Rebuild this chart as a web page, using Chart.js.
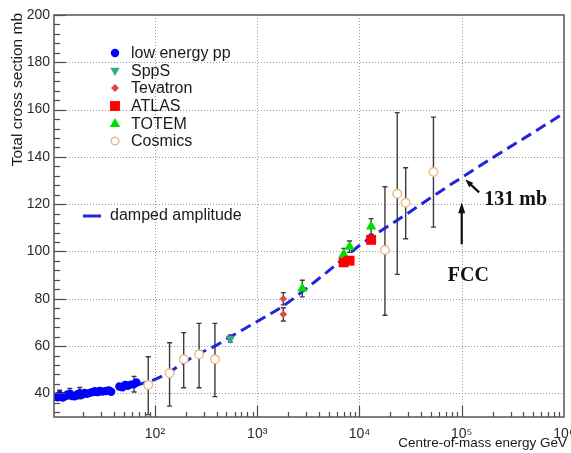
<!DOCTYPE html>
<html>
<head>
<meta charset="utf-8">
<script src="https://cdn.jsdelivr.net/npm/chart.js@4.4.1/dist/chart.umd.min.js"></script>
<style>
  html, body { margin: 0; padding: 0; background: #fff; }
  #wrap { width: 571px; height: 453px; }
</style>
</head>
<body>
<div id="wrap"><canvas id="xsec" width="571" height="453"></canvas></div>
<script>
// energies in GeV, cross sections in mb
const lowE     = [10.5, 11.2, 11.7, 12.5, 13.2, 13.8, 14.7, 15.5, 16.4, 17.3, 18.4, 19.4, 20.5, 21.7, 23.0, 24.3, 25.7, 27.4, 28.7, 30.6, 33.3, 35.5, 37.3, 44.9, 48.0, 51.3, 54.0, 58.2, 62.5, 65.9];
const lowSigma = [38.6, 38.3, 39.3, 38.2, 38.8, 39.4, 39.9, 38.9, 38.8, 39.5, 40.1, 39.4, 40.2, 39.8, 40.2, 40.5, 40.9, 40.5, 41.0, 40.8, 41.0, 41.2, 40.7, 42.9, 42.6, 43.6, 43.2, 43.7, 43.9, 44.6];
const lowErr   = [0.6, 0.6, 2.0, 0.6, 0.6, 0.6, 2.2, 0.6, 0.6, 0.6, 2.4, 0.6, 0.6, 0.6, 0.6, 0.6, 0.6, 0.6, 0.6, 0.6, 0.6, 0.6, 0.6, 0.6, 0.6, 0.6, 0.6, 0.6, 3.3, 0.6];

const sppsE = [546];
const sppsSigma = [63.2];
const sppsErr = [1.5];

const tevE = [1800, 1800];
const tevSigma = [80.0, 73.4];
const tevErr = [2.6, 2.8];

const atlasE = [7000, 8000, 13000];
const atlasSigma = [95.4, 96.1, 104.9];
const atlasErr = [1.3, 1.0, 1.1];

const totemE = [2760, 7000, 8000, 13000];
const totemSigma = [84.3, 98.8, 102.0, 110.6];
const totemErr = [3.5, 2.5, 2.4, 3.3];

const cosmicE  = [86, 139, 191, 270, 386, 17750, 23400, 28300, 52900];
const cosmicSigma = [43.5, 48.5, 54.4, 56.5, 54.4, 100.6, 124.4, 120.6, 133.6];
const cosmicLo = [31.0, 34.6, 42.4, 42.4, 38.6, 73.0, 90.3, 105.4, 110.3];
const cosmicHi = [55.5, 61.4, 65.7, 69.6, 69.6, 127.4, 158.7, 135.4, 156.8];

const fitE = [65, 100, 139, 191, 270, 386, 541, 1000, 1800, 2760, 4000, 7000, 10000, 13000, 20000, 30000, 50000, 100000, 200000, 500000, 1000000];
const fitSigma = [43.4, 45.9, 49.0, 53.0, 56.8, 60.0, 63.8, 70.4, 77.0, 83.0, 88.5, 97.0, 102.5, 106.0, 111.3, 116.3, 122.8, 131.3, 139.6, 150.3, 158.5];

const xTickValues = [100, 1000, 10000, 100000, 1000000];
const xTickLabels = ['10²', '10³', '10⁴', '10⁵', '10⁶'];
const yTickValues = [40, 60, 80, 100, 120, 140, 160, 180, 200];

const SANS = "'Liberation Sans', Arial, Helvetica, sans-serif";
const SERIF = "'Liberation Serif', 'Times New Roman', serif";

function pts(xs, ys) {
    return xs.map((x, i) => ({ x: x, y: ys[i] }));
}
function plus(ys, es) { return ys.map((y, i) => y + es[i]); }
function minus(ys, es) { return ys.map((y, i) => y - es[i]); }

const datasets = [
    {
        label: 'low energy pp', data: pts(lowE, lowSigma),
        pointStyle: 'circle', pointRadius: 4.2, borderWidth: 0,
        backgroundColor: '#0000ff', borderColor: '#0000ff',
        errLo: minus(lowSigma, lowErr), errHi: plus(lowSigma, lowErr)
    },
    {
        label: 'SppS', data: pts(sppsE, sppsSigma),
        pointStyle: 'triangle', rotation: 180, pointRadius: 5.5, borderWidth: 0,
        backgroundColor: '#3fa588', borderColor: '#3fa588',
        errLo: minus(sppsSigma, sppsErr), errHi: plus(sppsSigma, sppsErr)
    },
    {
        label: 'Tevatron', data: pts(tevE, tevSigma),
        pointStyle: 'rectRot', pointRadius: 3.8, borderWidth: 0,
        backgroundColor: '#e04848', borderColor: '#e04848',
        errLo: minus(tevSigma, tevErr), errHi: plus(tevSigma, tevErr)
    },
    {
        label: 'ATLAS', data: pts(atlasE, atlasSigma),
        pointStyle: 'rect', pointRadius: 7, borderWidth: 0,
        backgroundColor: '#ff0000', borderColor: '#ff0000',
        errLo: minus(atlasSigma, atlasErr), errHi: plus(atlasSigma, atlasErr)
    },
    {
        label: 'TOTEM', data: pts(totemE, totemSigma),
        pointStyle: 'triangle', pointRadius: 6, borderWidth: 0,
        backgroundColor: '#00dd00', borderColor: '#00dd00',
        errLo: minus(totemSigma, totemErr), errHi: plus(totemSigma, totemErr)
    },
    {
        label: 'Cosmics', data: pts(cosmicE, cosmicSigma),
        pointStyle: 'circle', pointRadius: 4.3, borderWidth: 1.4,
        backgroundColor: '#ffffff', borderColor: '#e9b986',
        errLo: cosmicLo, errHi: cosmicHi
    },
    {
        label: 'damped amplitude', type: 'line', data: pts(fitE, fitSigma),
        showLine: true, pointRadius: 0, borderWidth: 3,
        borderColor: '#2323dd', borderDash: [11, 6],
        cubicInterpolationMode: 'monotone', fill: false
    }
];

// ROOT-like frame: dotted grid underneath, inner ticks and box on top
const rootFrame = {
    id: 'rootFrame',
    beforeDatasetsDraw(chart) {
        const { ctx, chartArea: a, scales: { x, y } } = chart;
        ctx.save();
        ctx.strokeStyle = '#9a9a9a';
        ctx.lineWidth = 1;
        ctx.setLineDash([1, 2]);
        xTickValues.slice(0, -1).forEach(v => {
            const px = Math.round(x.getPixelForValue(v)) + 0.5;
            ctx.beginPath(); ctx.moveTo(px, a.top); ctx.lineTo(px, a.bottom); ctx.stroke();
        });
        yTickValues.slice(0, -1).forEach(v => {
            const py = Math.round(y.getPixelForValue(v)) + 0.5;
            ctx.beginPath(); ctx.moveTo(a.left, py); ctx.lineTo(a.right, py); ctx.stroke();
        });
        ctx.restore();
    },
    afterDatasetsDraw(chart) {
        const { ctx, chartArea: a, scales: { x, y } } = chart;
        ctx.save();
        ctx.strokeStyle = '#4a4a4a';
        ctx.lineWidth = 1.2;
        // x ticks
        for (let d = 10; d < 1e6; d *= 10) {
            for (let k = 1; k < 10; k++) {
                const v = d * k;
                if (v < x.min || v > x.max) continue;
                const px = Math.round(x.getPixelForValue(v)) + 0.5;
                const len = k === 1 ? 11 : 5;
                ctx.beginPath(); ctx.moveTo(px, a.bottom); ctx.lineTo(px, a.bottom - len); ctx.stroke();
            }
        }
        // y ticks
        for (let v = 32; v <= 200; v += 4) {
            const py = Math.round(y.getPixelForValue(v)) + 0.5;
            const len = v % 20 === 0 ? 12 : 6;
            ctx.beginPath(); ctx.moveTo(a.left, py); ctx.lineTo(a.left + len, py); ctx.stroke();
        }
        ctx.lineWidth = 1.5;
        ctx.strokeStyle = '#555';
        ctx.strokeRect(a.left, a.top, a.right - a.left, a.bottom - a.top);
        ctx.restore();
    }
};

const errorBars = {
    id: 'errorBars',
    beforeDatasetsDraw(chart) {
        const { ctx, chartArea: a, scales: { y } } = chart;
        ctx.save();
        ctx.beginPath();
        ctx.rect(a.left, a.top, a.right - a.left, a.bottom - a.top);
        ctx.clip();
        ctx.strokeStyle = '#3c3c3c';
        ctx.lineWidth = 1.4;
        chart.data.datasets.forEach((ds, i) => {
            if (!ds.errLo) return;
            chart.getDatasetMeta(i).data.forEach((pt, j) => {
                const top = y.getPixelForValue(ds.errHi[j]);
                const bot = y.getPixelForValue(ds.errLo[j]);
                ctx.beginPath();
                ctx.moveTo(pt.x, top); ctx.lineTo(pt.x, bot);
                ctx.moveTo(pt.x - 2.5, top); ctx.lineTo(pt.x + 2.5, top);
                ctx.moveTo(pt.x - 2.5, bot); ctx.lineTo(pt.x + 2.5, bot);
                ctx.stroke();
            });
        });
        ctx.restore();
    }
};

function arrow(ctx, x1, y1, x2, y2, head, wide) {
    const ang = Math.atan2(y2 - y1, x2 - x1);
    ctx.beginPath();
    ctx.moveTo(x1, y1);
    ctx.lineTo(x2 - Math.cos(ang) * head * 0.8, y2 - Math.sin(ang) * head * 0.8);
    ctx.stroke();
    ctx.beginPath();
    ctx.moveTo(x2, y2);
    ctx.lineTo(x2 - head * Math.cos(ang) + wide * Math.sin(ang), y2 - head * Math.sin(ang) - wide * Math.cos(ang));
    ctx.lineTo(x2 - head * Math.cos(ang) - wide * Math.sin(ang), y2 - head * Math.sin(ang) + wide * Math.cos(ang));
    ctx.closePath();
    ctx.fill();
}

// legend, axis titles and the FCC annotation
const decorations = {
    id: 'decorations',
    afterDraw(chart) {
        const { ctx, scales: { x, y } } = chart;
        ctx.save();

        // legend boxes
        ctx.font = '16px ' + SANS;
        ctx.textBaseline = 'middle';
        ctx.textAlign = 'left';
        const rows = [53, 70.5, 88, 106, 124, 141];
        const legendRadius = [4.2, 5.5, 4, 7, 6, 3.8];
        datasets.slice(0, 6).forEach((ds, i) => {
            ctx.fillStyle = ds.backgroundColor;
            ctx.strokeStyle = ds.borderColor;
            ctx.lineWidth = ds.borderWidth;
            Chart.helpers.drawPoint(ctx, {
                pointStyle: ds.pointStyle, rotation: ds.rotation || 0,
                radius: legendRadius[i], borderWidth: ds.borderWidth
            }, 115, rows[i]);
            ctx.fillStyle = '#1a1a1a';
            ctx.fillText(ds.label, 131, rows[i] + 1);
        });
        const fit = datasets[6];
        ctx.strokeStyle = fit.borderColor;
        ctx.lineWidth = 3;
        ctx.beginPath(); ctx.moveTo(83, 216); ctx.lineTo(101, 216); ctx.stroke();
        ctx.fillStyle = '#1a1a1a';
        ctx.fillText(fit.label, 110, 216);

        // axis titles
        ctx.font = '13.5px ' + SANS;
        ctx.textAlign = 'right';
        ctx.fillText('Centre-of-mass energy GeV', 567, 443);
        ctx.save();
        ctx.translate(18, 13);
        ctx.rotate(-Math.PI / 2);
        ctx.font = '15.5px ' + SANS;
        ctx.textAlign = 'right';
        ctx.fillText('Total cross section mb', 0, 0);
        ctx.restore();

        // FCC annotation
        ctx.fillStyle = '#111';
        ctx.strokeStyle = '#111';
        ctx.lineWidth = 2.2;
        const fx = x.getPixelForValue(1e5);
        arrow(ctx, fx, y.getPixelForValue(103), fx, y.getPixelForValue(120.8), 11, 3.5);
        arrow(ctx, x.getPixelForValue(Math.pow(10, 5.17)), y.getPixelForValue(125),
              x.getPixelForValue(Math.pow(10, 5.035)), y.getPixelForValue(130.4), 8, 3);
        ctx.font = 'bold 20px ' + SERIF;
        ctx.textAlign = 'left';
        ctx.fillText('131 mb', x.getPixelForValue(Math.pow(10, 5.22)), y.getPixelForValue(121.8));
        ctx.textAlign = 'center';
        ctx.fillText('FCC', x.getPixelForValue(Math.pow(10, 5.065)), y.getPixelForValue(89.6));
        ctx.restore();
    }
};

new Chart(document.getElementById('xsec'), {
    type: 'scatter',
    data: { datasets: datasets },
    plugins: [rootFrame, errorBars, decorations],
    options: {
        responsive: false,
        animation: false,
        devicePixelRatio: 1,
        layout: { padding: { left: 0, top: 15, right: 6, bottom: 0 } },
        plugins: { legend: { display: false }, tooltip: { enabled: false } },
        scales: {
            x: {
                type: 'logarithmic', min: 10.3, max: 1e6,
                afterBuildTicks: s => { s.ticks = xTickValues.map(v => ({ value: v })); },
                afterFit: s => { s.height = 36; s.paddingLeft = 0; s.paddingRight = 0; },
                grid: { display: false, drawTicks: false },
                border: { display: false },
                ticks: {
                    autoSkip: false, maxRotation: 0, padding: 9, color: '#2a2a2a',
                    font: { family: SANS, size: 14 },
                    callback: (v, i) => xTickLabels[i]
                }
            },
            y: {
                type: 'linear', min: 30, max: 200,
                afterBuildTicks: s => { s.ticks = yTickValues.map(v => ({ value: v })); },
                afterFit: s => { s.width = 54; s.paddingTop = 0; s.paddingBottom = 0; },
                grid: { display: false, drawTicks: false },
                border: { display: false },
                ticks: {
                    padding: 4, color: '#2a2a2a',
                    font: { family: SANS, size: 14 },
                    callback: v => String(v)
                }
            }
        }
    }
});
</script>
</body>
</html>
